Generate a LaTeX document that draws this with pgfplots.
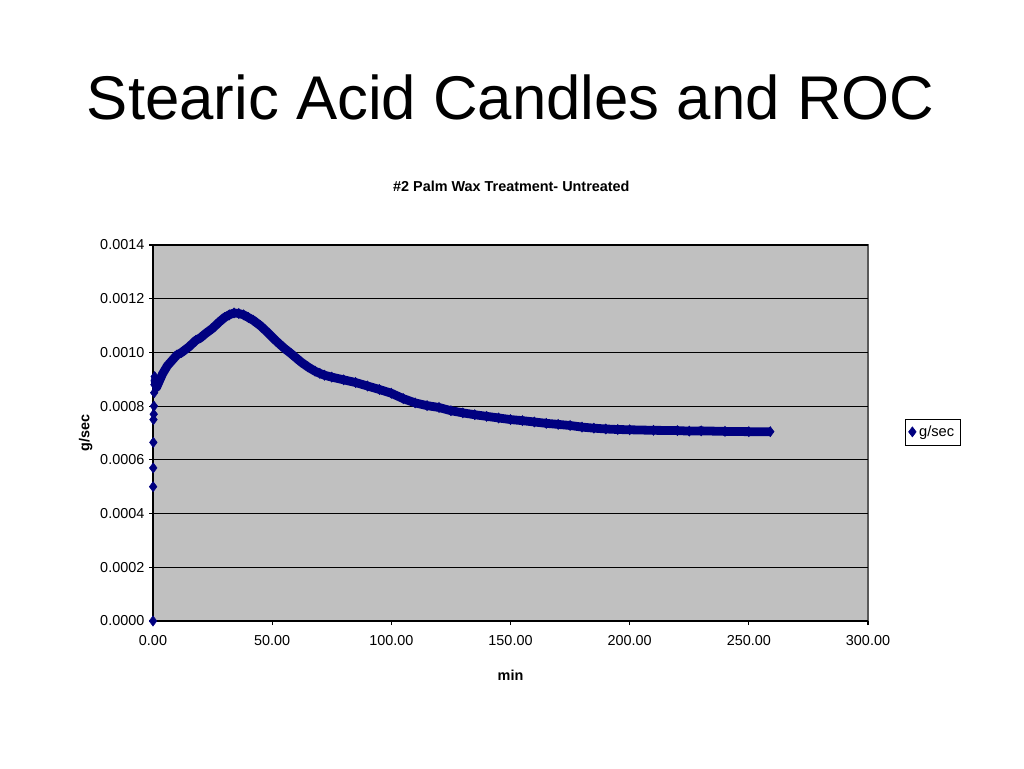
\documentclass[border=0pt]{standalone}
\usepackage{pgfplots}
\pgfplotsset{compat=1.18}
\usepackage{fontspec}
\setmainfont{Liberation Sans}
\definecolor{plotbg}{RGB}{192,192,192}
\definecolor{navyd}{RGB}{0,0,128}
\begin{document}
\begin{tikzpicture}
\useasboundingbox[fill=white] (0,0) rectangle (768pt,576pt);
\node[anchor=base,font=\fontsize{46.3}{50}\selectfont] at (383pt,486pt) {Stearic Acid Candles and ROC};
\node[anchor=base,font=\fontsize{10.8}{12}\selectfont\bfseries] at (383.5pt,432pt) {\#2 Palm Wax Treatment- Untreated};
\begin{axis}[
  at={(114.75pt,110.25pt)}, anchor=south west,
  scale only axis, width=536.25pt, height=282pt,
  xmin=0, xmax=300, ymin=0, ymax=0.0014,
  xtick={0,50,...,300},
  ytick={0,0.0002,0.0004,0.0006,0.0008,0.0010,0.0012,0.0014},
  scaled y ticks=false, scaled x ticks=false,
  xticklabel style={yshift=-4pt,/pgf/number format/.cd,fixed,fixed zerofill,precision=2,assume math mode=true},
  yticklabel style={/pgf/number format/.cd,fixed,fixed zerofill,precision=4,assume math mode=true},
  tick label style={font=\fontsize{10.8}{12}\selectfont},
  axis x line*=bottom, axis y line*=left,
  axis line style={black, line width=0.9pt},
  axis background/.style={fill=plotbg, draw=gray!70!black, line width=0.9pt},
  tick align=outside, major tick length=3pt,
  tick style={black, line width=0.8pt},
  ymajorgrids, major grid style={black, line width=0.8pt},
  xlabel={\bfseries min}, ylabel={\bfseries g/sec},
  label style={font=\fontsize{10.8}{12}\selectfont},
  xlabel style={yshift=-12pt},
  ylabel style={yshift=-1pt},
  clip=false,
  legend style={at={(1.0517,0.503)}, anchor=west, draw=black, fill=white,
    font=\fontsize{11}{13}\selectfont, inner xsep=2.5pt, inner ysep=3pt, row sep=0pt},
  legend cell align=left,
  legend image code/.code={\draw[#1] (0.1cm,0cm) circle(0pt);\pgfuseplotmark{diamond*}},
]
\addplot[navyd, line width=6.6pt, line join=round, forget plot] table {
x y
0.8 0.00090
1 0.00089
1.5 0.00087
2 0.00088
3 0.00090
4 0.00092
5 0.000935
6 0.00095
8 0.00097
10 0.00099
12 0.00100
15 0.00102
18 0.001045
20 0.001055
22 0.00107
25 0.00109
28 0.001115
30 0.00113
32 0.00114
34 0.001147
36 0.001145
38 0.00114
40 0.00113
42 0.00112
45 0.00110
48 0.001075
50 0.001057
52 0.00104
55 0.001016
58 0.000995
60 0.00098
62 0.000965
65 0.000946
68 0.00093
70 0.000922
72 0.000915
75 0.000908
80 0.000898
85 0.000888
90 0.000875
95 0.000862
100 0.000848
105 0.000828
110 0.000812
115 0.000802
120 0.000795
125 0.000783
130 0.000775
135 0.000768
140 0.000762
145 0.000756
150 0.000750
155 0.000746
160 0.000741
165 0.000736
170 0.000732
175 0.000728
180 0.000722
185 0.000718
190 0.000715
195 0.000713
200 0.000712
210 0.000710
220 0.000709
225 0.000707
230 0.000708
240 0.000706
250 0.000705
259 0.000705
};
\addplot[navyd, only marks, mark=diamond*, mark size=3.8pt] table {
x y
0 0
0.05 0.00050
0.1 0.00057
0.15 0.000665
0.2 0.00075
0.3 0.00077
0.4 0.00080
0.5 0.00085
0.6 0.00088
0.7 0.00091
0.8 0.00090
1 0.00089
1.5 0.00087
2 0.00088
3 0.00090
4 0.00092
5 0.000935
6 0.00095
8 0.00097
10 0.00099
12 0.00100
15 0.00102
18 0.001045
20 0.001055
22 0.00107
25 0.00109
28 0.001115
30 0.00113
32 0.00114
34 0.001147
36 0.001145
38 0.00114
40 0.00113
42 0.00112
45 0.00110
48 0.001075
50 0.001057
52 0.00104
55 0.001016
58 0.000995
60 0.00098
62 0.000965
65 0.000946
68 0.00093
70 0.000922
72 0.000915
75 0.000908
80 0.000898
85 0.000888
90 0.000875
95 0.000862
100 0.000848
105 0.000828
110 0.000812
115 0.000802
120 0.000795
125 0.000783
130 0.000775
135 0.000768
140 0.000762
145 0.000756
150 0.000750
155 0.000746
160 0.000741
165 0.000736
170 0.000732
175 0.000728
180 0.000722
185 0.000718
190 0.000715
195 0.000713
200 0.000712
210 0.000710
220 0.000709
225 0.000707
230 0.000708
240 0.000706
250 0.000705
259 0.000705
};
\addlegendentry{g/sec}
\end{axis}
\end{tikzpicture}
\end{document}
